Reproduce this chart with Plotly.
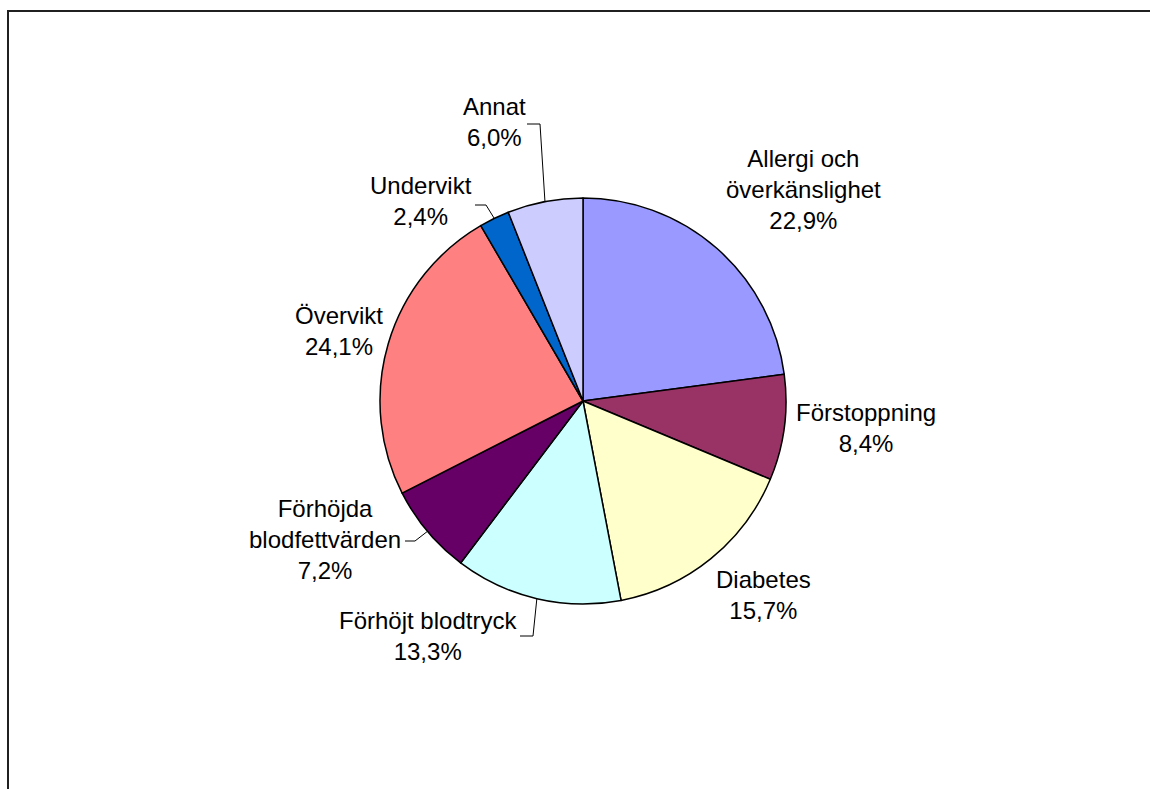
import math
import plotly.graph_objects as go

# Slices, clockwise from 12 o'clock
categories = [
    "Allergi och<br>överkänslighet",
    "Förstoppning",
    "Diabetes",
    "Förhöjt blodtryck",
    "Förhöjda<br>blodfettvärden",
    "Övervikt",
    "Undervikt",
    "Annat",
]
shares = [22.9, 8.4, 15.7, 13.3, 7.2, 24.1, 2.4, 6.0]
colors = ["#9999FF", "#993366", "#FFFFCC", "#CCFFFF", "#660066", "#FF8080", "#0066CC", "#CCCCFF"]

# Label block centres (pixels) and leader-line elbows (None = no leader)
label_pos = [(803, 189), (866, 428), (763, 595), (428, 636), (325, 539), (339, 331), (421, 201), (494, 122)]
leader_start = [None, None, None, (520, 636), (405, 541), None, (475, 205), (527, 124)]
leader_elbow = [None, None, None, (533, 636), (415, 541), None, (486, 205), (540, 124)]

W, H = 1150, 789
CX, CY, R = 583, 401, 203

fig = go.Figure()

fig.add_trace(go.Pie(
    values=shares,
    labels=[c.replace("<br>", " ") for c in categories],
    marker=dict(colors=colors, line=dict(color="black", width=1.5)),
    sort=False,
    direction="clockwise",
    rotation=0,
    textinfo="none",
    hoverinfo="label+percent",
    showlegend=False,
    domain=dict(x=[(CX - R) / W, (CX + R) / W], y=[(H - CY - R) / H, (H - CY + R) / H]),
))

total = sum(shares)
cum = 0.0
annotations = []
for i, (cat, v) in enumerate(zip(categories, shares)):
    mid = (cum + v / 2) / total * 2 * math.pi
    cum += v
    ex = CX + R * math.sin(mid)
    ey = CY - R * math.cos(mid)
    if leader_start[i] is not None:
        sx, sy = leader_start[i]
        bx, by = leader_elbow[i]
        fig.add_trace(go.Scatter(
            x=[sx, bx, ex], y=[sy, by, ey], mode="lines",
            line=dict(color="black", width=1), hoverinfo="skip", showlegend=False,
        ))
    lx, ly = label_pos[i]
    annotations.append(dict(
        x=lx, y=ly, xref="x", yref="y", showarrow=False,
        text=f"{cat}<br>{v:.1f}%".replace(".", ","),
        xanchor="center", yanchor="middle", align="center",
        font=dict(family="Liberation Sans, Arial, sans-serif", size=24, color="black"),
    ))

fig.update_layout(
    width=W, height=H,
    margin=dict(l=0, r=0, t=0, b=0),
    paper_bgcolor="white", plot_bgcolor="white",
    xaxis=dict(range=[0, W], visible=False, fixedrange=True),
    yaxis=dict(range=[H, 0], visible=False, fixedrange=True),
    annotations=annotations,
    shapes=[dict(type="rect", xref="x", yref="y", x0=8, y0=11, x1=W + 20, y1=H + 20,
                 line=dict(color="#202020", width=2))],
)

fig.write_html("out.html")
